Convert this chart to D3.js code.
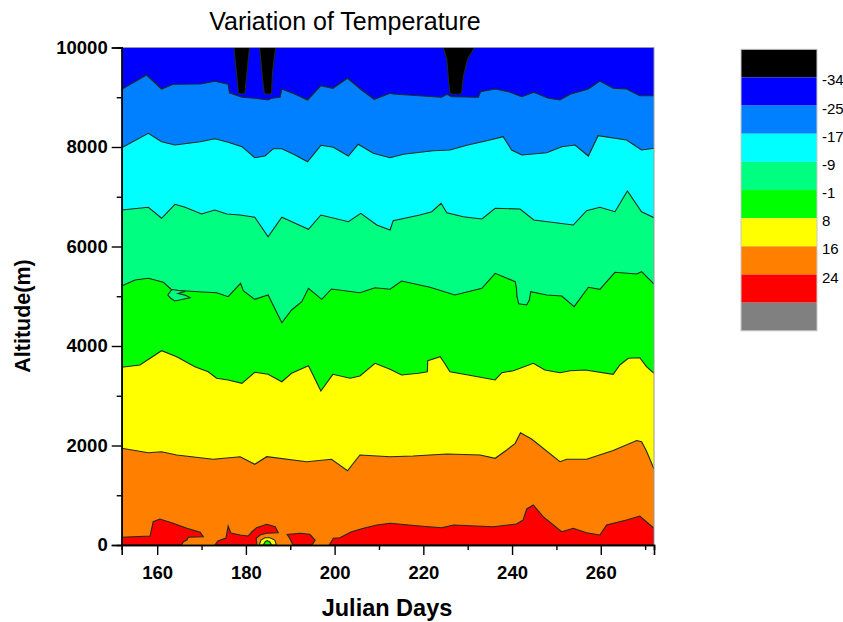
<!DOCTYPE html>
<html lang="en">
  <head>
    <meta charset="UTF-8" />
    <title>Variation of Temperature</title>
  </head>
  <style type="text/css">
    body {
      margin: 0;
      background: #fff;
    }
    text {
      font-family: 'Liberation Sans', Arial, sans-serif;
    }
  </style>

  <script src="https://d3js.org/d3.v7.min.js"></script>

  <body>
    <div class="d3Chart"></div>
  </body>
  <script type="text/javascript">
    // legend levels and colours (coldest first)
    var levels = [-34, -25, -17, -9, -1, 8, 16, 24]
    var bandColors = ['#000000', '#0000ff', '#0080ff', '#00ffff', '#00ff80', '#00ff00', '#ffff00', '#ff8000', '#ff0000', '#808080']

    var xTicks = [160, 180, 200, 220, 240, 260]
    var yTicks = [0, 2000, 4000, 6000, 8000, 10000]

    // contour boundaries [julian day, altitude m]
    var edgeM25 = [[152, 9160], [157.6, 9447], [161, 9166], [163.6, 9260], [169.7, 9266], [173, 9320], [176, 9260], [176.3, 9091], [179.1, 8999], [182, 8979], [185, 8945], [185.8, 8979], [187.7, 8999], [188.1, 9166], [191.1, 9059], [193.9, 8945], [196.9, 9232], [199.6, 9180], [202.9, 9381], [206.1, 9146], [208.9, 8959], [212.5, 9079], [213.2, 9065], [224.1, 8999], [225.3, 9059], [226.4, 9011], [232.4, 8999], [232.9, 9112], [236.2, 9166], [239.2, 9112], [242.2, 9011], [244.9, 9099], [248.2, 8979], [250.8, 8945], [253.1, 9059], [257.2, 9166], [259.8, 9326], [262.8, 9180], [265.8, 9166], [268.8, 9031], [272, 9031]]
    var edgeM17 = [[152, 7986], [158, 8275], [161, 8106], [164, 8040], [169.7, 8106], [173, 8167], [176, 8094], [179.1, 8006], [182, 7785], [184.3, 7819], [186.2, 7966], [188.1, 7966], [191.1, 7839], [193.9, 7704], [196.9, 8034], [199.7, 7994], [203.1, 7819], [205.3, 8054], [208.7, 7873], [212.5, 7785], [215.5, 7853], [222.2, 7925], [226, 7940], [229.8, 8034], [234.3, 8126], [238, 8207], [239.9, 7940], [242.2, 7839], [247.8, 7885], [251.2, 8006], [254.2, 8040], [257.2, 7819], [259.4, 8227], [265.8, 8141], [269.2, 7940], [272, 7974]]
    var edgeM9 = [[152, 6734], [158, 6788], [161, 6567], [164, 6848], [166.3, 6788], [170, 6653], [173, 6734], [175.7, 6653], [178.7, 6633], [182, 6587], [185, 6197], [188.1, 6587], [191.1, 6466], [194.1, 6346], [196.9, 6633], [203.1, 6498], [205.9, 6667], [209.5, 6432], [212.5, 6332], [213.2, 6518], [219.2, 6633], [221.9, 6699], [224, 6868], [225.3, 6679], [229, 6599], [233.2, 6553], [236.2, 6768], [241.8, 6754], [244.9, 6533], [253.8, 6432], [256.8, 6719], [259.8, 6788], [263.2, 6699], [266, 7115], [269.2, 6699], [272, 6579]]
    var edgeM1 = [[152, 5206], [155, 5327], [158, 5361], [161.4, 5280], [163.3, 5126], [169.3, 5091], [173.4, 5071], [176, 4991], [178.8, 5260], [179.4, 5111], [182, 4938], [185, 5025], [188.1, 4468], [190.3, 4724], [192.6, 4890], [194.1, 5160], [197.1, 4938], [199.3, 5146], [205.7, 5071], [209.1, 5172], [212.5, 5140], [215.1, 5306], [221.5, 5180], [227.1, 5025], [233.2, 5160], [236.2, 5461], [240.7, 5292], [241, 5160], [241.1, 4990], [241.5, 4850], [243.3, 4824], [243.9, 4925], [244.2, 5091], [247.8, 5025], [251.2, 5005], [254, 4790], [257.2, 5180], [259.8, 5140], [263.2, 5481], [268.1, 5447], [269.2, 5494], [272, 5246]]
    var edge8 = [[152, 3572], [156.1, 3618], [161, 3905], [164.4, 3785], [168.5, 3584], [171.5, 3483], [173.4, 3351], [176, 3317], [179.1, 3250], [182, 3471], [185, 3431], [188.1, 3282], [190.3, 3451], [194.1, 3604], [196.9, 3095], [199.6, 3431], [203.5, 3351], [205.7, 3397], [209.1, 3652], [212.5, 3532], [215.1, 3417], [218.9, 3451], [220.9, 3483], [221, 3704], [223.8, 3785], [224.9, 3638], [226, 3483], [230.1, 3417], [236.2, 3317], [237.7, 3463], [240.3, 3503], [244.8, 3652], [247.4, 3518], [250.8, 3463], [253.1, 3503], [256.5, 3518], [262.8, 3431], [264.3, 3618], [266.2, 3753], [268.8, 3765], [270.3, 3584], [272, 3451]]
    var edge16 = [[152, 1944], [158, 1855], [161, 1875], [164.4, 1809], [172.6, 1723], [178.7, 1775], [182, 1622], [184.7, 1775], [193.7, 1674], [199.3, 1723], [202.9, 1493], [205.7, 1809], [212.5, 1775], [217.7, 1789], [225.3, 1829], [232.8, 1809], [236.2, 1743], [238.8, 1910], [240.7, 2044], [241.9, 2257], [244.4, 2131], [250.8, 1674], [252.3, 1723], [256.8, 1723], [262.8, 1900], [268.1, 2100], [269.2, 2076], [270.3, 1889], [272, 1528]]

    // closed patches above 24 degrees near the ground
    var red1 = [[152, 0], [152, 155], [158.4, 181], [159.1, 468], [160.6, 523], [163.6, 436], [166.7, 336], [169.7, 255], [170.4, 167], [167, 155], [166.7, 100], [165.9, 66], [165.5, 0]]
    var red2 = [[173, 0], [173.7, 80], [175.5, 141], [176, 382], [176.6, 241], [178.7, 201], [180.5, 181], [181.3, 261], [182.4, 348], [184.7, 416], [186.6, 368], [187.3, 247], [184.7, 235], [183.2, 201], [182.3, 131], [182.5, 0]]
    var red3 = [[190.6, 0], [189.9, 131], [189.3, 211], [192.2, 235], [194.4, 215], [195.6, 100], [194.9, 0]]
    var red4 = [[198.8, 0], [199.7, 135], [201.2, 147], [203.8, 267], [206.5, 336], [209.5, 402], [212.5, 436], [219.2, 382], [224.1, 348], [226.8, 402], [235.8, 368], [241, 422], [242.5, 503], [243.3, 724], [244.8, 804], [247, 569], [251.2, 267], [253.8, 336], [256.8, 247], [259.8, 201], [261.3, 402], [265.8, 503], [268.8, 583], [272, 336], [272, 0]]

    // small cool pockets
    var yellowBlob = [[183, 0], [183.4, 100], [184.3, 147], [185.4, 147], [186.5, 100], [186.9, 0]]
    var greenBlob = [[183.9, 0], [184.4, 70], [184.8, 90], [185.4, 60], [185.8, 0]]
    var springPocket = [[163.3, 5136], [162.4, 5025], [163.1, 4955], [164, 4904], [167.4, 4970], [166.5, 5015], [164.7, 5055], [166.3, 5095]]

    // below -34 degrees, hanging from the top
    var cold1 = [[177.3, 10000], [180.8, 10000], [179.8, 9100], [179.6, 9070], [178.5, 9070], [178.3, 9100]]
    var cold2 = [[183.1, 10000], [186.7, 10000], [186, 9500], [185.8, 9090], [185.5, 9065], [184.4, 9065], [184.1, 9090], [183.6, 9500]]
    var cold3 = [[224.5, 10000], [231.5, 10000], [229.9, 9750], [229, 9410], [228.6, 9080], [228.2, 9060], [226.4, 9060], [226, 9080], [225.6, 9410], [225.3, 9750]]

    var width = 843
    var height = 622
    var plot = { left: 121.7, right: 654, top: 47.5, bottom: 545 }

    var svg = d3.select('.d3Chart').append('svg').attr('width', width).attr('height', height)

    var x = d3.scaleLinear().domain([152, 272]).range([plot.left, plot.right])
    var y = d3.scaleLinear().domain([0, 10000]).range([plot.bottom, plot.top])

    svg
      .append('clipPath')
      .attr('id', 'clip')
      .append('rect')
      .attr('x', plot.left)
      .attr('y', plot.top)
      .attr('width', plot.right - plot.left)
      .attr('height', plot.bottom - plot.top)

    var chart = svg.append('g').attr('clip-path', 'url(#clip)')

    // background band
    chart
      .append('rect')
      .attr('x', plot.left)
      .attr('y', plot.top)
      .attr('width', plot.right - plot.left)
      .attr('height', plot.bottom - plot.top)
      .attr('fill', bandColors[1])

    var area = d3
      .area()
      .x((d) => x(d[0]))
      .y0(y(0))
      .y1((d) => y(d[1]))
    var line = d3
      .line()
      .x((d) => x(d[0]))
      .y((d) => y(d[1]))

    var edges = [edgeM25, edgeM17, edgeM9, edgeM1, edge8, edge16]
    edges.forEach(function (e, i) {
      chart.append('path').attr('d', area(e)).attr('fill', bandColors[i + 2])
      chart.append('path').attr('d', line(e)).attr('fill', 'none').attr('stroke', '#1e2a1e').attr('stroke-width', 1.1)
    })

    function patch(pts, color) {
      chart
        .append('path')
        .attr('d', line(pts) + 'Z')
        .attr('fill', color)
        .attr('stroke', '#1e2a1e')
        .attr('stroke-width', 1.1)
    }

    patch(springPocket, bandColors[4])
    ;[red1, red2, red3, red4].forEach((p) => patch(p, bandColors[8]))
    patch(yellowBlob, bandColors[6])
    patch(greenBlob, bandColors[5])
    ;[cold1, cold2, cold3].forEach((p) => patch(p, bandColors[0]))

    // frame
    svg
      .append('path')
      .attr('d', `M${plot.left},${plot.top}H${plot.right}V${plot.bottom}`)
      .attr('fill', 'none')
      .attr('stroke', '#9a9a9a')
      .attr('stroke-width', 1)

    // axes
    svg
      .append('g')
      .attr('transform', `translate(0,${plot.bottom})`)
      .call(d3.axisBottom(x).tickValues(xTicks).tickSize(10).tickPadding(11).tickFormat(d3.format('d')))
    svg
      .append('g')
      .attr('transform', `translate(0,${plot.bottom})`)
      .call(d3.axisBottom(x).tickValues([170, 190, 210, 230, 250, 270]).tickSize(5).tickFormat(''))
    svg
      .append('g')
      .attr('transform', `translate(${plot.left},0)`)
      .call(d3.axisLeft(y).tickValues(yTicks).tickSize(10).tickPadding(4).tickFormat(d3.format('d')))
    svg
      .append('g')
      .attr('transform', `translate(${plot.left},0)`)
      .call(d3.axisLeft(y).tickValues([1000, 3000, 5000, 7000, 9000]).tickSize(5).tickFormat(''))

    svg.selectAll('.domain').attr('stroke', '#000').attr('stroke-width', 1.6)
    svg.selectAll('.tick line').attr('stroke', '#000').attr('stroke-width', 1.4)
    svg
      .selectAll('.tick text')
      .attr('fill', '#000')
      .style('font-size', '18.5px')
      .style('font-weight', 'bold')
      .style('font-family', "'Liberation Sans', Arial, sans-serif")

    // titles
    svg
      .append('text')
      .attr('x', 345)
      .attr('y', 30)
      .attr('text-anchor', 'middle')
      .style('font-size', '25px')
      .text('Variation of Temperature')
    svg
      .append('text')
      .attr('x', 387)
      .attr('y', 616)
      .attr('text-anchor', 'middle')
      .style('font-size', '23.5px')
      .style('font-weight', 'bold')
      .text('Julian Days')
    svg
      .append('text')
      .attr('transform', 'translate(30,316) rotate(-90)')
      .attr('text-anchor', 'middle')
      .style('font-size', '21.5px')
      .style('font-weight', 'bold')
      .text('Altitude(m)')

    // legend
    var legend = svg.append('g')
    var boxH = 28.15
    legend
      .selectAll('rect')
      .data(bandColors)
      .enter()
      .append('rect')
      .attr('x', 741)
      .attr('y', (d, i) => 49.3 + i * boxH)
      .attr('width', 76)
      .attr('height', boxH)
      .attr('fill', (d) => d)
    legend
      .append('rect')
      .attr('x', 741)
      .attr('y', 49.3)
      .attr('width', 76)
      .attr('height', boxH * bandColors.length)
      .attr('fill', 'none')
      .attr('stroke', '#c8c8c8')
    legend
      .selectAll('text')
      .data(levels)
      .enter()
      .append('text')
      .attr('x', 822)
      .attr('y', (d, i) => 49.3 + (i + 1) * boxH + 8)
      .style('font-size', '15px')
      .text((d) => d)
  </script>
</html>
